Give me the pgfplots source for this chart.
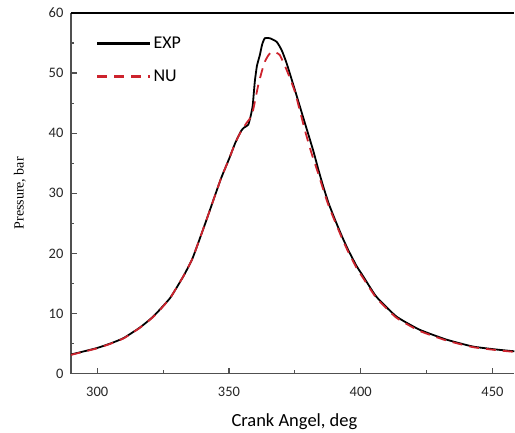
\documentclass[border=0pt]{standalone}
\usepackage{pgfplots}
\pgfplotsset{compat=1.18}
\usepackage{fontspec}
\setmainfont{Carlito}
\newfontfamily\serifff{Liberation Serif}
\definecolor{nured}{RGB}{205,35,45}
\definecolor{axgray}{RGB}{80,80,80}
\pgfplotstableread{
x y
290 3.16
295 3.7
300 4.26
305 5.0
310 5.9
316 7.6
320 9.0
322.6 10.1
327.7 12.6
332.7 16.2
335.9 18.9
337.8 21.1
341 25
344.1 28.9
347 32.5
350.1 35.8
352.3 38.3
354.5 40.3
355.6 40.9
357.3 41.4
358.3 43
359 44.6
359.8 48.6
360.6 51.2
361.7 53.0
362.6 54.8
363.6 55.8
365.5 55.8
368.1 55.2
370 53.8
371.9 51.6
375 47.2
378.1 42.7
381.9 37.2
384 33.8
386 30.8
388 28.1
390.8 25.0
393 22.7
395.2 20.6
398.4 17.9
400.9 16.2
405.9 12.8
413.5 9.5
422.3 7.3
432.5 5.65
442.5 4.5
451.4 4.0
458.3 3.7
}\exptable
\pgfplotstableread{
x y
290 3.1
295 3.65
300 4.2
305 4.95
310 5.85
316 7.55
320 8.95
322.6 10.0
327.7 12.6
332.7 16.2
335.9 18.9
337.8 21.1
341 25
344.1 28.9
347 32.5
350.1 35.8
352.3 38.3
354.2 40.0
356.5 41.6
358.6 42.9
359.8 45.2
361.1 48.0
362.4 50.2
363.6 51.9
365 53.0
366.2 53.5
367.8 53.4
369.3 53.0
371.9 50.5
375 46.9
378.8 40.5
381.3 36.7
384 33.1
386 30.3
388 27.7
390.8 24.7
393 22.4
395.2 20.3
398.4 17.6
400.9 15.9
405.9 12.6
413.5 9.3
422.3 7.1
432.5 5.5
442.5 4.4
451.4 3.9
458.3 3.6
}\nutable
\begin{document}
\begin{tikzpicture}
\begin{axis}[
  scale only axis,
  width=444pt, height=361pt,
  xmin=290, xmax=458.3,
  ymin=0, ymax=60,
  axis lines*=left,
  axis line style={-, axgray, line width=1.3pt},
  xtick={300,350,400,450},
  minor xtick={325,375,425},
  ytick={0,10,20,30,40,50,60},
  minor ytick={5,15,25,35,45,55},
  tick align=inside,
  major tick length=6pt,
  minor tick length=3.5pt,
  tick style={axgray, line width=1.2pt},
  /pgf/number format/assume math mode=true,
  ticklabel style={font=\fontsize{14.5}{16}\selectfont, text=black!85},
  xticklabel style={yshift=-10pt},
  yticklabel style={xshift=-4pt},
  xlabel={Crank Angel, deg},
  xlabel style={font=\fontsize{18.5}{21}\selectfont, at={(axis description cs:0.504,0)}, anchor=center, yshift=-48pt},
  ylabel={Pressure, bar},
  ylabel style={font=\serifff\fontsize{14}{16}\selectfont, at={(axis description cs:-0.115,0.5)}, anchor=center},
  legend style={draw=none, fill=none, at={(axis description cs:0.05,0.945)}, anchor=north west,
    font=\fontsize{18}{20}\selectfont, row sep=16pt,
    legend cell align=left},
  legend image code/.code={\draw[#1, line width=2.4pt] (0pt,0pt) -- (53pt,0pt);},
]
\addplot[black, line width=1.8pt, smooth, tension=0.3] table[x=x,y=y] {\exptable};
\addlegendentry{EXP}
\addplot[nured, line width=1.8pt, dash pattern=on 10pt off 7pt, smooth, tension=0.3] table[x=x,y=y] {\nutable};
\addlegendentry{NU}
\draw[black, line width=1.6pt] (rel axis cs:0,1) -- (rel axis cs:1,1);
\end{axis}
\path (-71pt,-58pt) rectangle (444pt,374pt);
\end{tikzpicture}
\end{document}
